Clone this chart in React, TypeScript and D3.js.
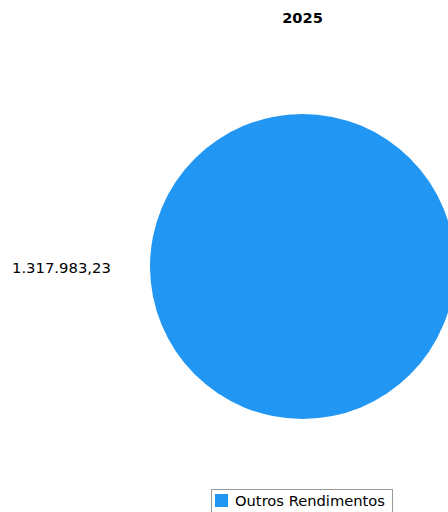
import React from "react";
import * as d3 from "d3";

const title = "2025";
const categories = ["Outros Rendimentos"];
const values = [1317983.23];
const colors = ["#2196F3"];

const fmt = (v: number) => {
  const [i, d] = v.toFixed(2).split(".");
  return i.replace(/\B(?=(\d{3})+(?!\d))/g, ".") + "," + d;
};

export default function App() {
  const W = 448, H = 512;
  const cx = 302.5, cy = 266.5, r = 152.5;
  const pie = d3.pie<number>().sort(null)(values);
  const arc = d3.arc<d3.PieArcDatum<number>>().innerRadius(0).outerRadius(r);
  const font = "DejaVu Sans, sans-serif";
  return (
    <svg width={W} height={H} style={{ position: "absolute", left: 0, top: 0 }}>
      <rect width={W} height={H} fill="#fff" />
      <text x={302.5} y={22.5} textAnchor="middle" fontFamily={font} fontWeight="bold" fontSize={14.6} fill="#000">{title}</text>
      <g transform={`translate(${cx},${cy})`}>
        {pie.map((p, i) => (
          <path key={i} d={arc(p) || ""} fill={colors[i]} />
        ))}
      </g>
      {pie.map((p, i) => (
        <text key={i} x={12} y={273} fontFamily={font} fontSize={14.8} fill="#000">{fmt(values[i])}</text>
      ))}
      <rect x={211.5} y={489.5} width={181} height={30} fill="#fff" stroke="#999" strokeWidth={1} />
      {categories.map((c, i) => (
        <g key={c}>
          <rect x={215} y={494} width={13} height={13} fill={colors[i]} />
          <text x={235} y={506} fontFamily={font} fontSize={14.7} fill="#000">{c}</text>
        </g>
      ))}
    </svg>
  );
}
